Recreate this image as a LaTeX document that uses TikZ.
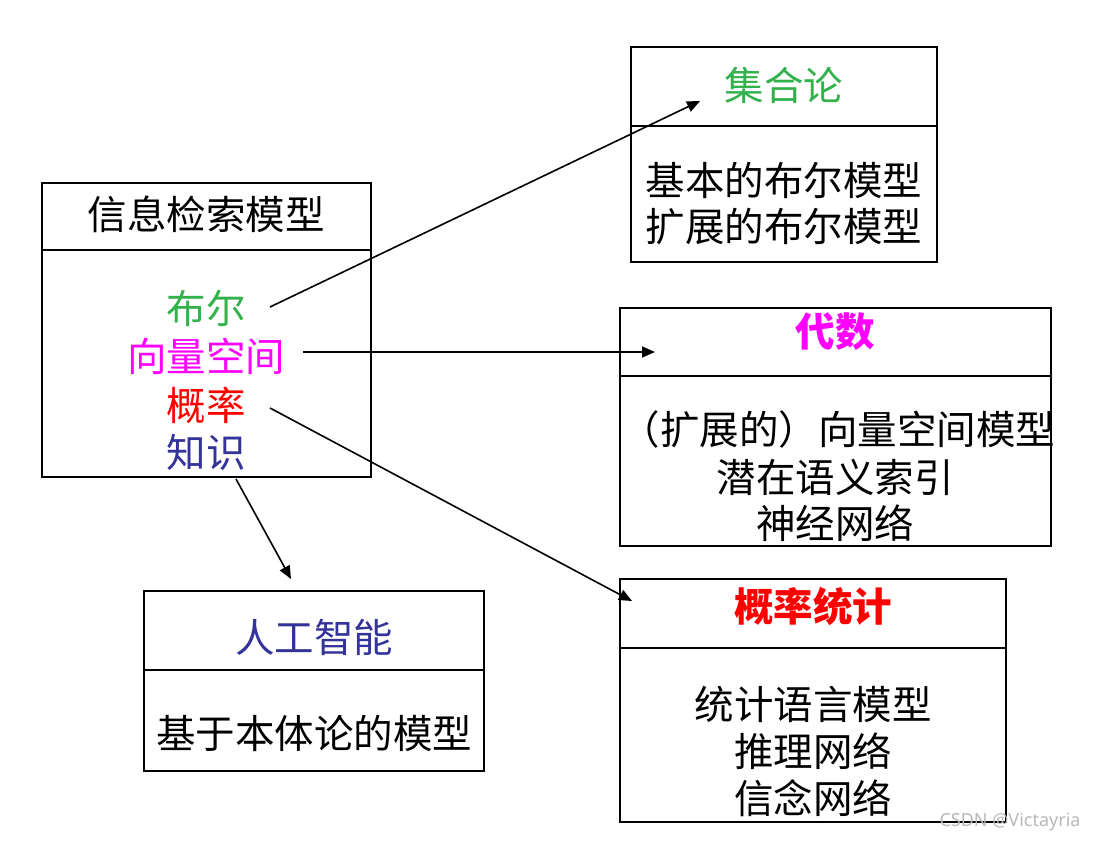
\documentclass[tikz,border=0pt]{standalone}
\usepackage{fontspec}
\newfontfamily\cjk{Noto Sans CJK SC}
\newfontfamily\wmfont{Noto Sans}
\usetikzlibrary{arrows.meta}
\definecolor{cgreen}{RGB}{51,178,76}
\definecolor{cmag}{RGB}{255,0,255}
\definecolor{cred}{RGB}{255,0,0}
\definecolor{cblue}{RGB}{51,51,153}
\definecolor{wm}{RGB}{185,185,185}
\begin{document}
\begin{tikzpicture}[x=1pt,y=-1pt,
  boxline/.style={draw=black,line width=2pt},
  txt/.style={inner sep=0pt,anchor=center,font=\cjk\fontsize{39.5}{47}\selectfont},
  btxt/.style={txt,font=\cjk\bfseries\fontsize{39.5}{47}\selectfont},
  conn/.style={line width=1.6pt,-{Triangle[length=13pt,width=11pt]}}]
\useasboundingbox (0,0) rectangle (1099,843);
\fill[white] (0,0) rectangle (1099,843);
% main box
\draw[boxline] (42,183) rectangle (371,477);
\draw[boxline] (42,250) -- (371,250);
\node[txt] (main) at (206,214) {信息检索模型};
\node[txt,text=cgreen] (bool) at (206,308) {布尔};
\node[txt,text=cmag] (vec) at (206,356) {向量空间};
\node[txt,text=cred] (prob) at (206,405) {概率};
\node[txt,text=cblue] (know) at (206,452) {知识};
% set theory box
\draw[boxline] (631,47) rectangle (937,262);
\draw[boxline] (631,126) -- (937,126);
\node[txt,text=cgreen] (set) at (784,85) {集合论};
\node[txt] (set1) at (784,180) {基本的布尔模型};
\node[txt] (set2) at (784,227) {扩展的布尔模型};
% algebra box
\draw[boxline] (620,308) rectangle (1051,546);
\draw[boxline] (620,376) -- (1051,376);
\node[btxt,text=cmag] (alg) at (835,332) {代数};
\node[txt] (alg1) at (838,429) {（扩展的）向量空间模型};
\node[txt] (alg2) at (835,477) {潜在语义索引};
\node[txt] (alg3) at (835,523) {神经网络};
% probability box
\draw[boxline] (620,579) rectangle (1006,822);
\draw[boxline] (620,648) -- (1006,648);
\node[btxt,text=cred] (stat) at (813,606) {概率统计};
\node[txt] (stat1) at (813,704) {统计语言模型};
\node[txt] (stat2) at (813,751) {推理网络};
\node[txt] (stat3) at (813,798) {信念网络};
% AI box
\draw[boxline] (144,591) rectangle (484,771);
\draw[boxline] (144,670) -- (484,670);
\node[txt,text=cblue] (ai) at (314,637) {人工智能};
\node[txt] (ai1) at (314,733) {基于本体论的模型};
% connectors
\coordinate (b0) at (270,307);
\coordinate (b1) at (700,101);
\coordinate (v0) at (303,352);
\coordinate (v1) at (655,352);
\coordinate (p0) at (270,408);
\coordinate (p1) at (632,601);
\coordinate (k0) at (236,479);
\coordinate (k1) at (291,579);
\draw[conn] (b0) -- (b1);
\draw[conn] (v0) -- (v1);
\draw[conn] (p0) -- (p1);
\draw[conn] (k0) -- (k1);
% watermark
\node[inner sep=0pt,anchor=center,text=wm,font=\wmfont\fontsize{18}{22}\selectfont] (wmk) at (1010,822) {CSDN @Victayria};
\end{tikzpicture}
\end{document}
